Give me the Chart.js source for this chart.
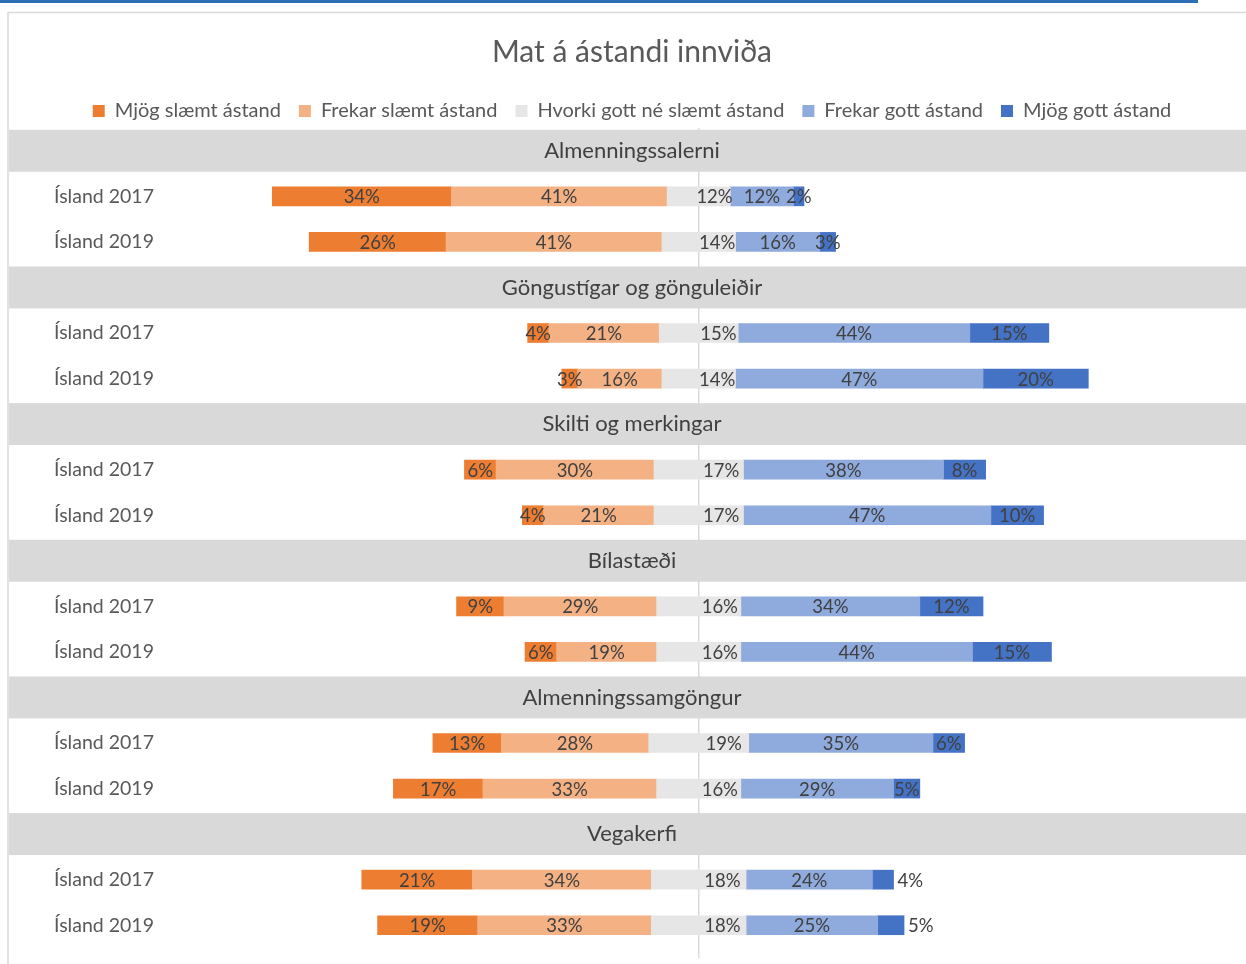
<!DOCTYPE html>
<html>
<head>
<meta charset="utf-8">
<script src="https://cdn.jsdelivr.net/npm/chart.js@4.4.0/dist/chart.umd.min.js"></script>
<style>
  html, body { margin: 0; padding: 0; background: #fff; overflow: hidden; }
  #ruler { position: absolute; left: 0; top: 0; width: 1198px; height: 3px; background: #2e6fb4; }
  canvas { position: absolute; left: 0; top: 0; }
</style>
</head>
<body>
<canvas id="chart" width="1246" height="964"></canvas>
<div id="ruler"></div>
<script>
// groups (header rows) and the two survey years under each
const groups = ['Almenningssalerni', 'Göngustígar og gönguleiðir', 'Skilti og merkingar', 'Bílastæði', 'Almenningssamgöngur', 'Vegakerfi']
const years = ['Ísland 2017', 'Ísland 2019']
const seriesNames = ['Mjög slæmt ástand', 'Frekar slæmt ástand', 'Hvorki gott né slæmt ástand', 'Frekar gott ástand', 'Mjög gott ástand']

// percent values, two per group (2017, 2019)
const mjogSlaemt = [34, 26, 4, 3, 6, 4, 9, 6, 13, 17, 21, 19]
const frekarSlaemt = [41, 41, 21, 16, 30, 21, 29, 19, 28, 33, 34, 33]
const hvorki = [12, 14, 15, 14, 17, 17, 16, 16, 19, 16, 18, 18]
const frekarGott = [12, 16, 44, 47, 38, 47, 34, 44, 35, 29, 24, 25]
const mjogGott = [2, 3, 15, 20, 8, 10, 12, 15, 6, 5, 4, 5]

// groups where the outer "good" label sits outside the bar
const outsideLabelGroups = ['Vegakerfi']

const colors = ['#ED7D31', '#F4B183', '#E7E6E6', '#8FAADC', '#4472C4']
const textColor = '#404040'
const labelColor = '#595959'
const font = 'Lato, "Open Sans", sans-serif'

// build category rows: header row then the years
const rows = []
const rowGroup = []
const isHeader = []
const dataIndex = []
groups.forEach((g, gi) => {
  rows.push(g); rowGroup.push(g); isHeader.push(true); dataIndex.push(null)
  years.forEach((y, yi) => {
    rows.push(y); rowGroup.push(g); isHeader.push(false); dataIndex.push(gi * years.length + yi)
  })
})

const pick = (arr, f) => dataIndex.map(i => (i === null ? null : f(arr[i])))

const datasets = [
  { label: seriesNames[2], data: pick(hvorki, v => -v / 2), pct: null, backgroundColor: colors[2], legendOrder: -1 },
  { label: seriesNames[1], data: pick(frekarSlaemt, v => -v), pct: pick(frekarSlaemt, v => v), backgroundColor: colors[1], legendOrder: 1 },
  { label: seriesNames[0], data: pick(mjogSlaemt, v => -v), pct: pick(mjogSlaemt, v => v), backgroundColor: colors[0], legendOrder: 0 },
  { label: seriesNames[2], data: pick(hvorki, v => v / 2), pct: pick(hvorki, v => v), backgroundColor: colors[2], legendOrder: 2 },
  { label: seriesNames[3], data: pick(frekarGott, v => v), pct: pick(frekarGott, v => v), backgroundColor: colors[3], legendOrder: 3 },
  { label: seriesNames[4], data: pick(mjogGott, v => v), pct: pick(mjogGott, v => v), backgroundColor: colors[4], legendOrder: 4, outer: true },
]

const backdrop = {
  id: 'backdrop',
  beforeDraw(chart) {
    const { ctx, width, height } = chart
    ctx.save()
    ctx.fillStyle = '#fff'
    ctx.fillRect(0, 0, width, height)
    ctx.strokeStyle = '#d9d9d9'
    ctx.lineWidth = 1.5
    ctx.beginPath()
    ctx.moveTo(8, height)
    ctx.lineTo(8, 12.5)
    ctx.lineTo(width, 12.5)
    ctx.stroke()
    ctx.restore()
  },
  beforeDatasetsDraw(chart) {
    const { ctx, chartArea, scales } = chart
    const x0 = scales.x.getPixelForValue(0)
    ctx.save()
    // centre line
    ctx.strokeStyle = '#d9d9d9'
    ctx.lineWidth = 1.5
    ctx.beginPath()
    ctx.moveTo(x0, chartArea.top)
    ctx.lineTo(x0, chartArea.bottom + 10)
    ctx.stroke()
    // header bands and row labels
    const step = scales.y.getPixelForValue(1) - scales.y.getPixelForValue(0)
    const band = step * 0.92
    const cx = (chartArea.left + chartArea.right) / 2
    ctx.textBaseline = 'middle'
    rows.forEach((r, i) => {
      const y = scales.y.getPixelForValue(i)
      if (isHeader[i]) {
        ctx.fillStyle = '#d9d9d9'
        ctx.fillRect(9, y - band / 2, chart.width - 9, band)
        ctx.fillStyle = textColor
        ctx.textAlign = 'center'
        ctx.font = '22px ' + font
        ctx.fillText(r, cx, y)
      } else {
        ctx.fillStyle = labelColor
        ctx.textAlign = 'left'
        ctx.font = '19.5px ' + font
        ctx.fillText(r, 54, y)
      }
    })
    ctx.restore()
  },
  afterDatasetsDraw(chart) {
    const { ctx } = chart
    ctx.save()
    ctx.fillStyle = textColor
    ctx.font = '18.5px ' + font
    ctx.textBaseline = 'middle'
    chart.data.datasets.forEach((ds, di) => {
      if (!ds.pct) return
      const meta = chart.getDatasetMeta(di)
      meta.data.forEach((bar, i) => {
        const v = ds.pct[i]
        if (v === null || v === undefined) return
        const { x, base, y } = bar.getProps(['x', 'base', 'y'], true)
        if (ds.outer && outsideLabelGroups.includes(rowGroup[i])) {
          ctx.textAlign = 'left'
          ctx.fillText(v + '%', x + 4, y + 1)
        } else {
          ctx.textAlign = 'center'
          ctx.fillText(v + '%', (x + base) / 2, y + 1)
        }
      })
    })
    ctx.restore()
  },
}

new Chart(document.getElementById('chart'), {
  type: 'bar',
  data: { labels: rows, datasets },
  plugins: [backdrop],
  options: {
    responsive: false,
    animation: false,
    indexAxis: 'y',
    layout: { padding: { left: 18, right: 0, top: 0, bottom: 16 } },
    datasets: { bar: { barThickness: 19 } },
    scales: {
      x: { stacked: true, min: -129.3, max: 103.95, display: false },
      y: { stacked: true, display: false },
    },
    plugins: {
      tooltip: { enabled: false },
      title: {
        display: true,
        text: 'Mat á ástandi innviða',
        color: labelColor,
        font: { family: font, size: 30, weight: 'normal' },
        padding: { top: 34, bottom: 13 },
      },
      legend: {
        display: true,
        maxHeight: 45,
        labels: {
          color: labelColor,
          font: { family: font, size: 20 },
          boxWidth: 12,
          boxHeight: 12,
          padding: 18,
          filter: (item, data) => data.datasets[item.datasetIndex].legendOrder >= 0,
          sort: (a, b, data) => data.datasets[a.datasetIndex].legendOrder - data.datasets[b.datasetIndex].legendOrder,
        },
      },
    },
  },
})
</script>
</body>
</html>
